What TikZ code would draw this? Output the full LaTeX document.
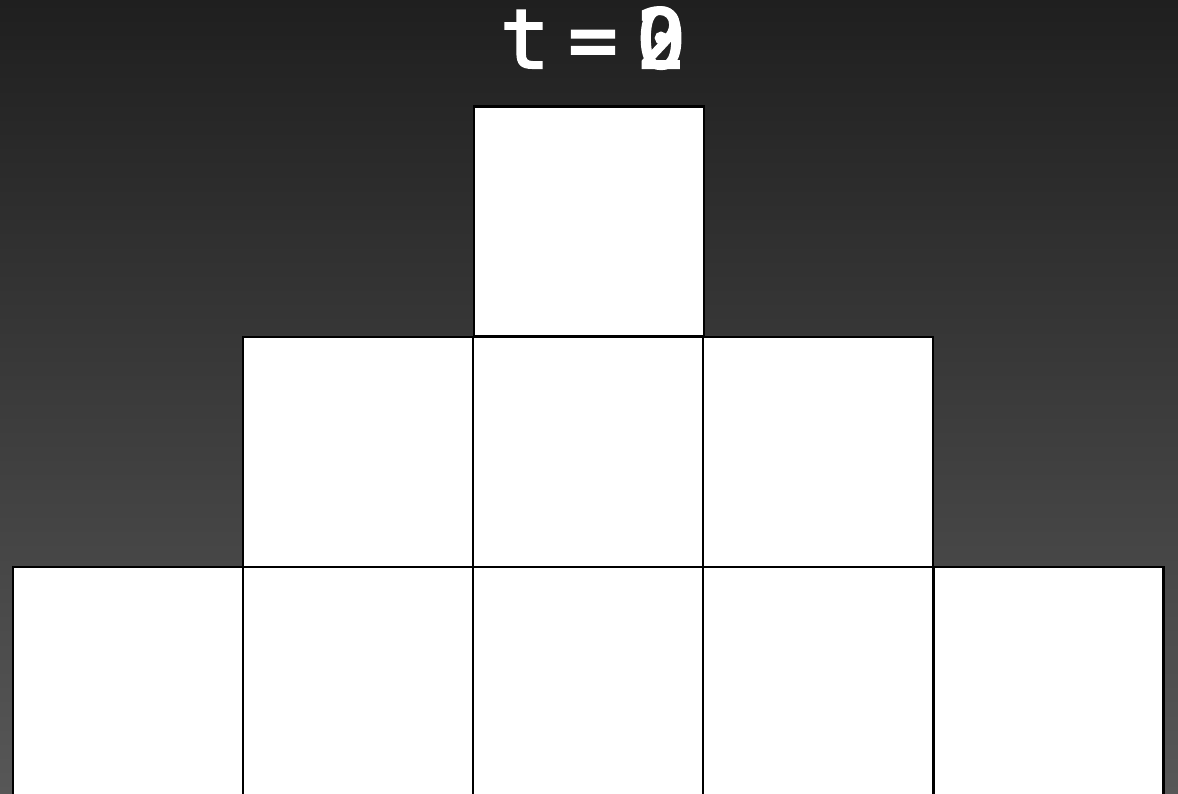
\documentclass[tikz,border=0pt]{standalone}
\usepackage{fontspec}
\newfontfamily\titlefont{DejaVu Sans Mono}[WordSpace=0.38,FakeBold=2.5]
\usepackage{xcolor}
\definecolor{bgtop}{HTML}{1F1F1F}
\definecolor{bgbottom}{HTML}{575757}

\tikzset{
	block/.style={draw=black,fill=white,line width=2.4pt,minimum size=230pt,inner sep=0pt},
	stamp/.style={text=white,font=\titlefont\fontsize{82}{82}\selectfont,inner sep=0pt}
}

\begin{document}
\begin{tikzpicture}[x=1pt,y=-1pt]
		
		% Background
		\shade[top color=bgtop,bottom color=bgbottom] (0,0) rectangle (1178,794);
		\useasboundingbox (0,0) rectangle (1178,794);
		
		% Title with the overlapping digit
		\node[stamp,anchor=base] (title) at (593,68) {t = 0};
		\node[stamp,anchor=base east] (digit) at (title.base east) {2};
		
		% Bottom row
		\foreach \i/\x in {1/128,2/358,3/588,4/818,5/1048.5}
		\node[block] (low\i) at (\x,682) {};
		
		% Middle row
		\foreach \i/\x in {1/358,2/588,3/818}
		\node[block] (mid\i) at (\x,452) {};
		
		% Top
		\node[block] (top) at (589,221.5) {};
		
\end{tikzpicture}
\end{document}
